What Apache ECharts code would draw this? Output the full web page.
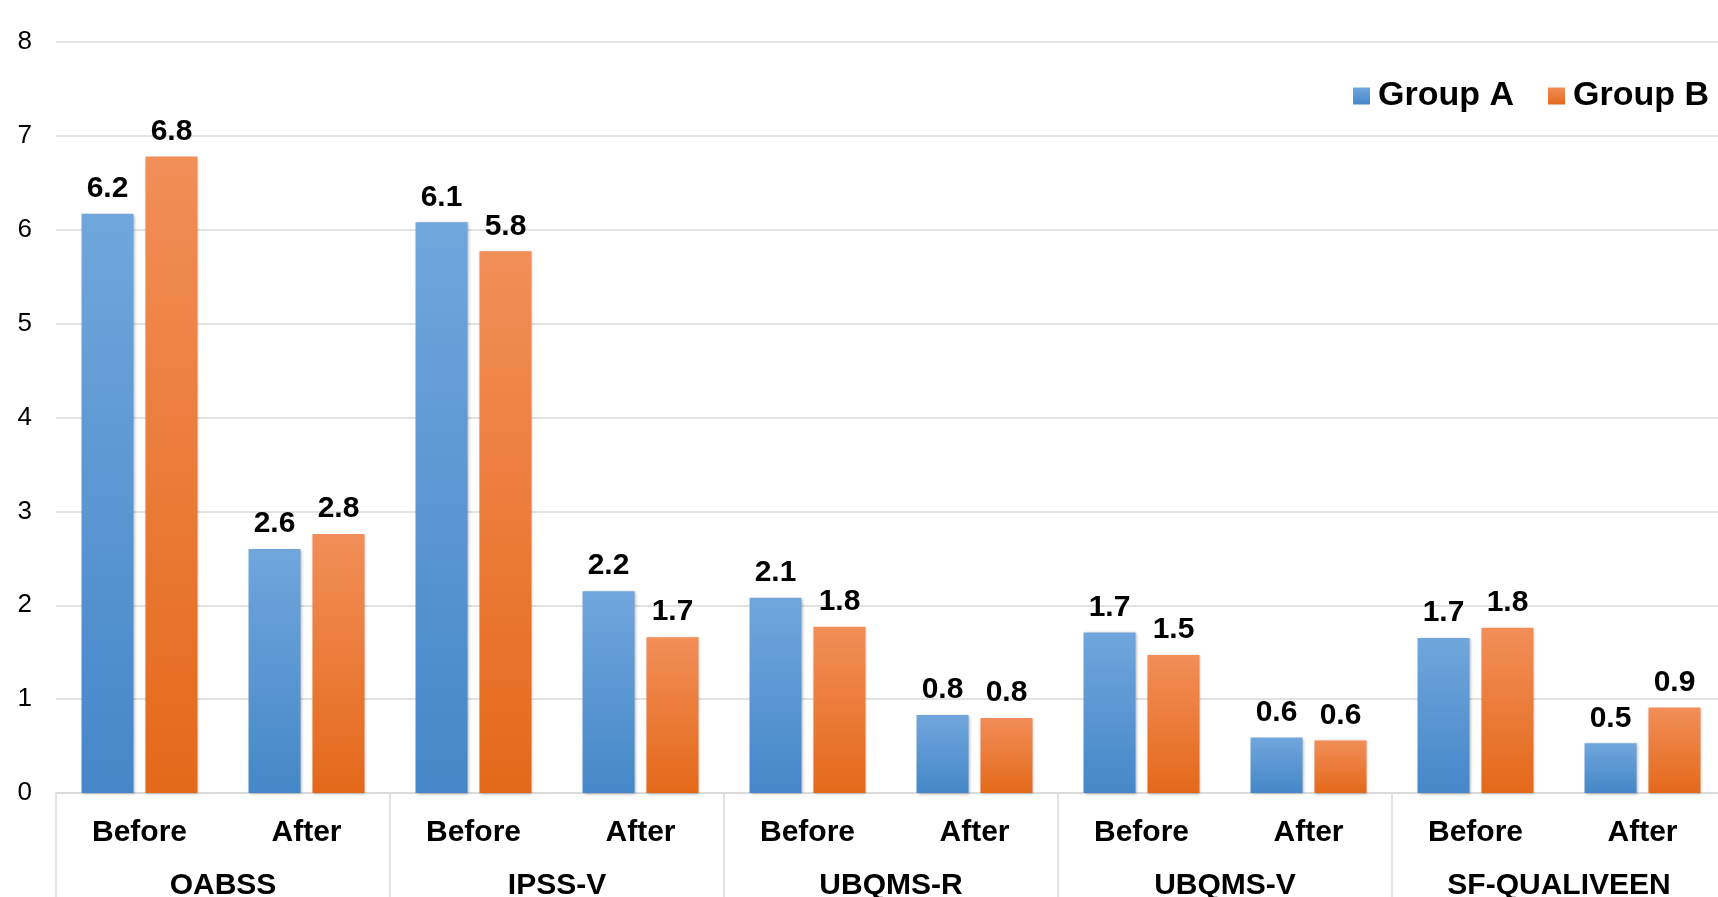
<!DOCTYPE html>
<html>
<head>
<meta charset="utf-8">
<script src="https://cdn.jsdelivr.net/npm/echarts@6/dist/echarts.min.js"></script>
<style>
html,body{margin:0;padding:0;background:#fff;}
#chart{width:1718px;height:897px;}
</style>
</head>
<body>
<div id="chart"></div>
<script>
const phases = ["Before","After","Before","After","Before","After","Before","After","Before","After"];
const groups = ["OABSS","IPSS-V","UBQMS-R","UBQMS-V","SF-QUALIVEEN"];
const seriesNames = ["Group A","Group B"];
const groupA = [6.17, 2.60, 6.08, 2.15, 2.08, 0.83, 1.71, 0.59, 1.65, 0.53];
const groupB = [6.78, 2.76, 5.77, 1.66, 1.77, 0.80, 1.47, 0.56, 1.76, 0.91];
const labelsA = ["6.2","2.6","6.1","2.2","2.1","0.8","1.7","0.6","1.7","0.5"];
const labelsB = ["6.8","2.8","5.8","1.7","1.8","0.8","1.5","0.6","1.8","0.9"];
const yTicks = [0,1,2,3,4,5,6,7,8];

const FONT = '"Liberation Sans", Arial, sans-serif';
function grad(top, bottom){
  return new echarts.graphic.LinearGradient(0,0,0,1,[{offset:0,color:top},{offset:1,color:bottom}]);
}
const colA = grad('#70a6dc','#4587c8');
const colB = grad('#f28e58','#e4691a');

const chart = echarts.init(document.getElementById('chart'));
function mkSeries(name, data, labels, color){
  return {
    name: name,
    type: 'bar',
    data: data,
    barWidth: 52,
    barGap: '23%',
    itemStyle: {color: color, shadowBlur: 3, shadowColor: 'rgba(0,0,0,0.3)', shadowOffsetX: 1, shadowOffsetY: 1},
    label: {
      show: true, position: 'top', distance: 10,
      fontFamily: FONT, fontSize: 30, fontWeight: 'bold', color: '#000',
      formatter: p => labels[p.dataIndex]
    }
  };
}
chart.setOption({
  animation: false,
  backgroundColor: '#fff',
  grid: {left: 56, right: -8, top: 42, bottom: 104, containLabel: false, outerBoundsMode: 'none'},
  legend: {
    data: seriesNames,
    right: 4, top: 74,
    icon: 'rect', itemWidth: 17, itemHeight: 17, itemGap: 34,
    textStyle: {fontFamily: FONT, fontSize: 34, fontWeight: 'bold', color: '#000', padding: [0,0,0,3]}
  },
  xAxis: [
    {
      type: 'category', data: phases, position: 'bottom',
      axisLine: {show: true, lineStyle: {color: '#d9d9d9', width: 1.5}},
      axisTick: {show: false},
      axisLabel: {margin: 25, fontFamily: FONT, fontSize: 30, fontWeight: 'bold', color: '#000', interval: 0}
    },
    {
      type: 'category', data: groups, position: 'bottom', gridIndex: 0,
      axisLine: {show: false},
      axisTick: {show: true, length: 110, lineStyle: {color: '#d9d9d9', width: 1.5}},
      axisLabel: {margin: 78, fontFamily: FONT, fontSize: 30, fontWeight: 'bold', color: '#000', interval: 0}
    }
  ],
  yAxis: {
    type: 'value', min: yTicks[0], max: yTicks[yTicks.length-1], interval: 1,
    axisLine: {show: false}, axisTick: {show: false},
    axisLabel: {margin: 24, fontFamily: FONT, fontSize: 26, color: '#000'},
    splitLine: {lineStyle: {color: '#d9d9d9', width: 1.5}}
  },
  series: [
    mkSeries(seriesNames[0], groupA, labelsA, colA),
    mkSeries(seriesNames[1], groupB, labelsB, colB)
  ]
});
</script>
</body>
</html>
